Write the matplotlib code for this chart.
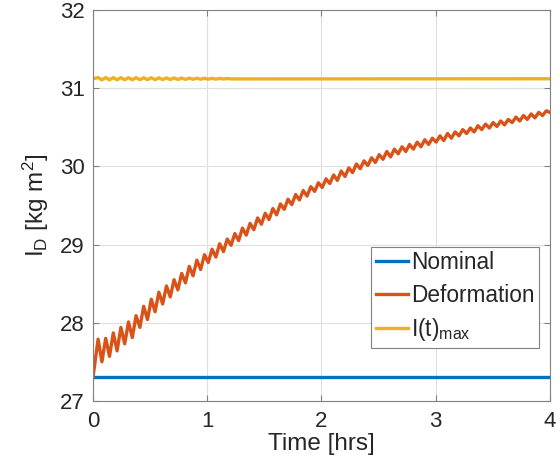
import numpy as np
import matplotlib
matplotlib.use("Agg")
import matplotlib.pyplot as plt

plt.rcParams["font.family"] = ["Liberation Sans", "DejaVu Sans"]
plt.rcParams["mathtext.fontset"] = "custom"
plt.rcParams["mathtext.rm"] = "Liberation Sans"
plt.rcParams["mathtext.it"] = "Liberation Sans:italic"
plt.rcParams["mathtext.bf"] = "Liberation Sans:bold"

# Inertia about the D axis over a 4 hour run
t_start, t_end = 0.0, 4.0
t_first_peak = 0.045
half_period = 0.03325          # hrs between successive extrema of the wobble

nominal_value = 27.3
deform_start = 27.30
deform_end = 30.69

# Deformation case: alternating peak / trough values of the wobble
deform_extrema = [
    27.79, 27.50, 27.80, 27.57, 27.87, 27.64, 27.94, 27.73, 28.01, 27.81,
    28.09, 27.94, 28.21, 28.04, 28.30, 28.14, 28.39, 28.24, 28.47, 28.33,
    28.55, 28.42, 28.63, 28.51, 28.72, 28.60, 28.80, 28.68, 28.87, 28.77,
    28.94, 28.84, 29.01, 28.91, 29.07, 28.99, 29.14, 29.05, 29.21, 29.12,
    29.27, 29.19, 29.34, 29.26, 29.40, 29.32, 29.46, 29.38, 29.52, 29.45,
    29.58, 29.51, 29.64, 29.57, 29.69, 29.62, 29.74, 29.68, 29.79, 29.73,
    29.84, 29.78, 29.89, 29.82, 29.94, 29.87, 29.98, 29.92, 30.03, 29.97,
    30.07, 30.01, 30.11, 30.05, 30.15, 30.09, 30.19, 30.12, 30.22, 30.16,
    30.25, 30.19, 30.28, 30.22, 30.31, 30.25, 30.34, 30.28, 30.36, 30.31,
    30.39, 30.33, 30.42, 30.36, 30.44, 30.39, 30.47, 30.42, 30.49, 30.44,
    30.52, 30.47, 30.54, 30.49, 30.56, 30.51, 30.58, 30.53, 30.60, 30.56,
    30.63, 30.58, 30.65, 30.60, 30.67, 30.62, 30.69, 30.65, 30.71,
]

# Upper bound I(t)max: small wobble early on, then flat
imax_level = 31.12
imax_extrema = [
    31.136, 31.106, 31.136, 31.106, 31.135, 31.107, 31.135, 31.107,
    31.134, 31.108, 31.134, 31.108, 31.133, 31.109, 31.133, 31.109,
    31.132, 31.110, 31.132, 31.110, 31.131, 31.111, 31.130, 31.112,
    31.129, 31.113, 31.128, 31.114, 31.127, 31.115, 31.126, 31.116,
    31.125, 31.117, 31.124, 31.118,
]

time_ticks = [0, 1, 2, 3, 4]
value_ticks = [27, 28, 29, 30, 31, 32]

c_blue = "#0072BD"
c_orange = "#D95319"
c_yellow = "#EDB120"

def extrema_times(n):
    return t_first_peak + half_period * np.arange(n)

t_def = np.concatenate([[t_start], extrema_times(len(deform_extrema)), [t_end]])
y_def = np.concatenate([[deform_start], deform_extrema, [deform_end]])

t_imax = np.concatenate([[t_start], extrema_times(len(imax_extrema)), [t_end]])
y_imax = np.concatenate([[imax_level], imax_extrema, [imax_level]])

fig = plt.figure(figsize=(5.6, 4.75), dpi=100)
ax = fig.add_axes([0.166, 0.156, 0.816, 0.823])

lw = 2.4
ax.plot([t_start, t_end], [nominal_value, nominal_value], color=c_blue, lw=lw, label="Nominal")
ax.plot(t_def, y_def, color=c_orange, lw=lw, label="Deformation", solid_joinstyle="round")
ax.plot(t_imax, y_imax, color=c_yellow, lw=lw, label=r"I(t)$_{\mathrm{max}}$")

ax.set_xlim(t_start, t_end)
ax.set_ylim(27, 32)
ax.set_xticks(time_ticks)
ax.set_yticks(value_ticks)
ax.grid(True, color="#dfdfdf", lw=0.8)
ax.set_axisbelow(True)

axis_grey = "#262626"
for s in ax.spines.values():
    s.set_color("#808080")
    s.set_linewidth(0.8)
ax.tick_params(direction="in", length=4, width=0.8, color="#808080",
               labelsize=16, labelcolor=axis_grey, top=True, right=True)
ax.tick_params(axis="x", pad=7)
ax.tick_params(axis="y", pad=6)

ax.set_xlabel("Time [hrs]", fontsize=17.5, color=axis_grey, labelpad=1)
ax.set_ylabel(r"I$_{\mathrm{D}}$ [kg m$^2$]", fontsize=17.5, color=axis_grey, labelpad=6)

leg = ax.legend(loc="lower right", bbox_to_anchor=(0.976, 0.1355), fontsize=16.3,
                handlelength=1.4, handletextpad=0.15, borderpad=0.2,
                labelspacing=0.42, borderaxespad=0.0, fancybox=False,
                framealpha=1.0, edgecolor="#808080")
leg.get_frame().set_linewidth(0.8)
for txt in leg.get_texts():
    txt.set_color(axis_grey)

fig.savefig("out.png", dpi=100)
